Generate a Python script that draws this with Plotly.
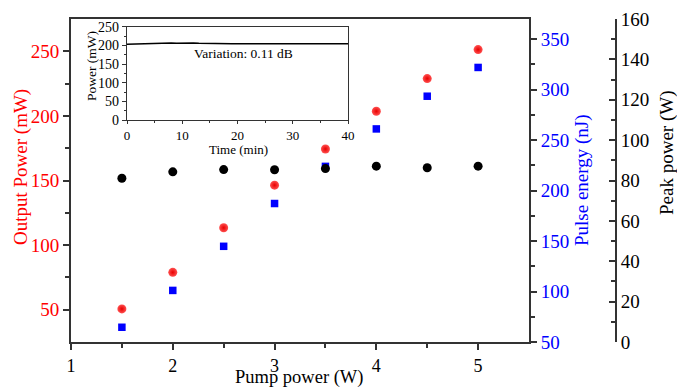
import plotly.graph_objects as go

pump = [1.5, 2.0, 2.5, 3.0, 3.5, 4.0, 4.5, 5.0]
output_power = [50.6, 78.9, 113.4, 146.4, 174.4, 203.6, 228.9, 251.3]
pulse_energy = [64.6, 101.1, 144.8, 187.2, 224.0, 261.1, 293.5, 322.0]
peak_power = [81.1, 84.3, 85.4, 85.3, 85.9, 87.1, 86.3, 87.1]

time_min = list(range(0, 41))
stab_power = [203, 203.5, 204, 204.5, 205.5, 206, 205.5, 206, 206, 205.5, 206,
              205.5, 206, 205.5, 205, 205, 205, 205, 205, 204.5, 204.5, 204,
              204.5, 204, 204, 204.5, 204, 204, 204.5, 204, 204.5, 204, 204,
              204.5, 204, 204, 204, 204.5, 204, 204.5, 204]

FONT = "Liberation Serif, Times New Roman, serif"
AX = "#333333"
FS = 19
FI = 13.5

def f(size, color="black"):
    return dict(family=FONT, size=size, color=color)

fig = go.Figure()
fig.add_trace(go.Scatter(x=pump, y=output_power, mode="markers", xaxis="x", yaxis="y",
                         marker=dict(symbol="circle", size=9, color="#ff5050",
                                     gradient=dict(type="radial", color="#e80000"),
                                     line=dict(width=0)), showlegend=False))
fig.add_trace(go.Scatter(x=pump, y=pulse_energy, mode="markers", xaxis="x", yaxis="y2",
                         marker=dict(symbol="square", size=7.5, color="#0000ff",
                                     line=dict(width=0)), showlegend=False))
fig.add_trace(go.Scatter(x=pump, y=peak_power, mode="markers", xaxis="x", yaxis="y3",
                         marker=dict(symbol="circle", size=9, color="#000000",
                                     line=dict(width=0)), showlegend=False))
fig.add_trace(go.Scatter(x=time_min, y=stab_power, mode="lines", xaxis="x4", yaxis="y4",
                         line=dict(color="black", width=1.5), showlegend=False))

L, R, T, B = 71, 61, 19, 45
W, H = 677, 387
pw = W - L - R
ph = H - T - B
xd_end = (529 - L) / pw

def px(xp):
    return (xp - L) / pw

def py(yp):
    return 1 - (yp - T) / ph

def ann(text, x, y, font, angle=0):
    return dict(text=text, x=px(x), y=py(y), xref="paper", yref="paper",
                xanchor="center", yanchor="middle", textangle=angle,
                showarrow=False, font=font)

fig.update_layout(
    width=W, height=H,
    margin=dict(l=L, r=R, t=T, b=B, autoexpand=False),
    paper_bgcolor="white", plot_bgcolor="white",
    font=f(FS),
    xaxis=dict(domain=[0, xd_end], range=[1, 5.5], tickvals=[1, 2, 3, 4, 5],
               ticks="outside", ticklen=6, tickwidth=1.5, tickcolor=AX,
               minor=dict(tickvals=[1.5, 2.5, 3.5, 4.5], ticks="outside", ticklen=4, tickcolor=AX),
               showline=True, linecolor=AX, linewidth=2, mirror=True,
               showgrid=False, zeroline=False, automargin=False,
               tickfont=f(18)),
    yaxis=dict(domain=[0, 1], range=[25, 275], tickvals=[50, 100, 150, 200, 250],
               ticks="outside", ticklen=6, tickwidth=1.5, tickcolor=AX,
               minor=dict(tickvals=[75, 125, 175, 225], ticks="outside", ticklen=4, tickcolor=AX),
               showline=True, linecolor=AX, linewidth=2,
               showgrid=False, zeroline=False, automargin=False,
               tickfont=f(FS, "#ff0000")),
    yaxis2=dict(overlaying="y", anchor="x", side="right", range=[50, 370],
                tickvals=[50, 100, 150, 200, 250, 300, 350],
                ticks="outside", ticklen=6, tickwidth=1.5, tickcolor=AX,
                minor=dict(tickvals=[75, 125, 175, 225, 275, 325], ticks="outside", ticklen=4, tickcolor=AX),
                showline=True, linecolor=AX, linewidth=2,
                showgrid=False, zeroline=False, automargin=False,
                tickfont=f(FS, "#0000ff")),
    yaxis3=dict(overlaying="y", anchor="free", position=1.0, side="right", range=[0, 160],
                tickvals=[0, 20, 40, 60, 80, 100, 120, 140, 160],
                ticks="inside", ticklen=6, tickwidth=1.5, tickcolor=AX,
                minor=dict(tickvals=[10, 30, 50, 70, 90, 110, 130, 150], ticks="inside", ticklen=4, tickcolor=AX),
                showline=True, linecolor=AX, linewidth=2,
                showgrid=False, zeroline=False, automargin=False,
                tickfont=f(FS)),
    xaxis4=dict(domain=[px(127), px(348)], anchor="y4", range=[0, 40],
                tickvals=[0, 10, 20, 30, 40], ticks="outside", ticklen=3, tickcolor=AX,
                minor=dict(tickvals=[5, 15, 25, 35], ticks="outside", ticklen=2, tickcolor=AX),
                showline=True, linecolor=AX, linewidth=1.2, mirror=True,
                showgrid=False, zeroline=False, automargin=False, tickfont=f(13)),
    yaxis4=dict(domain=[py(120), py(26.7)], anchor="x4", range=[0, 250],
                tickvals=[0, 50, 100, 150, 200, 250], ticks="outside", ticklen=4, tickcolor=AX,
                minor=dict(tickvals=[25, 75, 125, 175, 225], ticks="outside", ticklen=2, tickcolor=AX),
                showline=True, linecolor=AX, linewidth=1.2, mirror=True,
                showgrid=False, zeroline=False, automargin=False, tickfont=f(14)),
    annotations=[
        dict(text="Variation: 0.11 dB", x=21, y=177, xref="x4", yref="y4",
             showarrow=False, font=f(FI)),
        ann("Time (min)", 238, 149, f(13)),
        ann("Power (mW)", 91, 66, f(FI), -90),
        ann("Pump power (W)", 299, 377, f(18.5)),
        ann("Output Power (mW)", 21, 167, f(FS, "#ff0000"), -90),
        ann("Pulse energy (nJ)", 582, 180, f(FS, "#0000ff"), -90),
        ann("Peak power (W)", 667, 153, f(FS), -90),
    ],
)

fig.write_html("out.html", config={"displayModeBar": False},
               post_script="document.body.style.margin='0';")
